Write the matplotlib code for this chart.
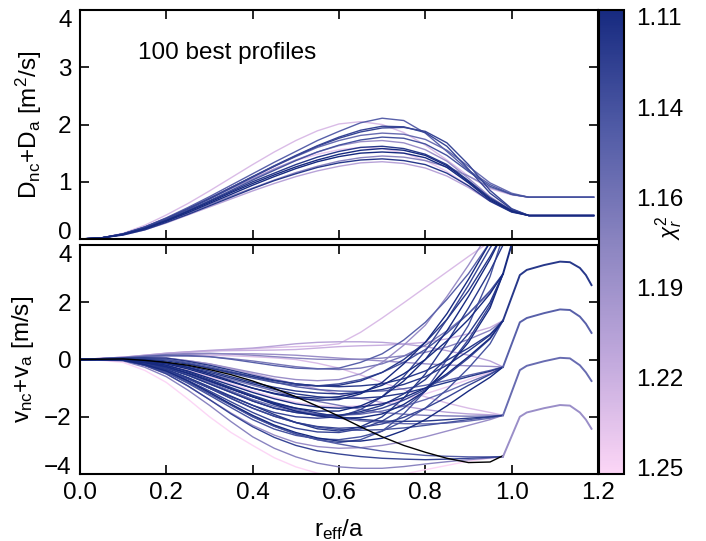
import numpy as np
import matplotlib
matplotlib.use("Agg")
import matplotlib.pyplot as plt
from matplotlib.colors import LinearSegmentedColormap, Normalize
from matplotlib.cm import ScalarMappable

plt.rcParams['font.family'] = ['Liberation Sans', 'DejaVu Sans']
plt.rcParams['mathtext.fontset'] = 'custom'
plt.rcParams['mathtext.rm'] = 'Liberation Sans'
plt.rcParams['mathtext.it'] = 'Liberation Sans:italic'
plt.rcParams['font.size'] = 17.5

# ---- data ----
chi_min, chi_max = 1.11, 1.25
cbar_labels = ['1.11', '1.14', '1.16', '1.19', '1.22', '1.25']

# upper panel: D profiles
r_D = [0, .05, .1, .15, .2, .25, .3, .35, .4, .45, .5, .55, .6, .65, .7,
       .75, .8, .85, .9, .95, 1.0, 1.04, 1.19]
D_chi = [1.11, 1.12, 1.13, 1.15, 1.23, 1.14, 1.12, 1.18, 1.21, 1.16, 1.11, 1.19, 1.24, 1.13]
D_vals = [
    [0, .02, .08, .18, .31, .46, .62, .78, .94, 1.09, 1.23, 1.35, 1.44, 1.50, 1.52, 1.50, 1.42, 1.25, .98, .68, .48, .41, .41],
    [0, .02, .07, .16, .29, .43, .58, .73, .88, 1.02, 1.14, 1.25, 1.33, 1.38, 1.40, 1.37, 1.30, 1.15, .93, .66, .47, .41, .41],
    [0, .02, .09, .20, .35, .52, .70, .89, 1.08, 1.27, 1.45, 1.62, 1.76, 1.87, 1.94, 1.95, 1.88, 1.68, 1.30, .85, .53, .41, .41],
    [0, .02, .09, .21, .37, .55, .74, .94, 1.14, 1.34, 1.53, 1.72, 1.88, 2.03, 2.11, 2.07, 1.85, 1.53, 1.20, .95, .78, .73, .73],
    [0, .02, .10, .24, .42, .62, .84, 1.07, 1.30, 1.52, 1.72, 1.89, 2.01, 2.05, 2.00, 1.86, 1.64, 1.38, 1.10, .88, .77, .73, .73],
    [0, .02, .08, .19, .33, .50, .67, .85, 1.03, 1.20, 1.37, 1.52, 1.64, 1.73, 1.78, 1.76, 1.66, 1.46, 1.18, .92, .78, .73, .73],
    [0, .02, .08, .19, .33, .49, .66, .83, 1.00, 1.15, 1.30, 1.43, 1.53, 1.60, 1.62, 1.58, 1.48, 1.30, 1.02, .72, .50, .41, .41],
    [0, .02, .08, .18, .31, .45, .60, .75, .89, 1.03, 1.16, 1.27, 1.36, 1.42, 1.45, 1.43, 1.37, 1.26, 1.10, .90, .78, .73, .73],
    [0, .02, .07, .16, .28, .42, .56, .70, .84, .97, 1.09, 1.19, 1.27, 1.33, 1.35, 1.32, 1.24, 1.10, .90, .66, .48, .41, .41],
    [0, .02, .09, .21, .36, .53, .71, .90, 1.09, 1.27, 1.44, 1.60, 1.72, 1.81, 1.85, 1.83, 1.74, 1.55, 1.27, .98, .80, .73, .73],
    [0, .02, .08, .18, .32, .48, .64, .81, .97, 1.12, 1.26, 1.38, 1.48, 1.55, 1.58, 1.55, 1.46, 1.28, 1.00, .70, .49, .41, .41],
    [0, .02, .09, .20, .35, .52, .70, .88, 1.05, 1.22, 1.38, 1.52, 1.63, 1.70, 1.72, 1.68, 1.56, 1.36, 1.06, .74, .50, .41, .41],
    [0, .02, .09, .21, .37, .54, .72, .90, 1.07, 1.23, 1.37, 1.48, 1.56, 1.60, 1.58, 1.50, 1.37, 1.18, .93, .67, .48, .41, .41],
    [0, .02, .09, .21, .36, .53, .71, .90, 1.09, 1.28, 1.46, 1.63, 1.78, 1.90, 1.97, 1.96, 1.86, 1.62, 1.22, .80, .52, .41, .41],
]

# lower panel: v profiles up to r=0.98 (None chi = black curve)
r_v = [0, .05, .1, .15, .2, .25, .3, .35, .4, .45, .5, .55, .6, .65, .7,
       .75, .8, .85, .9, .95, .98]
v_chi = [1.12, 1.11, 1.13, 1.23, 1.15, 1.12, 1.19, 1.14, 1.11,
         1.11, 1.12, 1.14, 1.13, 1.17, 1.11,
         1.12, 1.13, 1.18, 1.11, 1.22, 1.14, 1.12,
         1.15, 1.19, 1.13, 1.21, 1.16, 1.11, 1.24, 1.12,
         1.17, 1.21, 1.14, 1.19, 1.12, 1.23, 1.16,
         None, 1.13, 1.18, 1.25, 1.15]
v_vals = [
    # leaving through the top
    [0, .03, .05, .06, .05, -.06, -.20, -.37, -.55, -.72, -.85, -.92, -.90, -.75, -.45, .00, .60, 1.40, 2.40, 3.60, 4.40],
    [0, .01, .00, -.10, -.25, -.48, -.75, -1.03, -1.30, -1.53, -1.70, -1.80, -1.80, -1.62, -1.30, -.75, .00, 1.00, 2.20, 3.50, 4.40],
    [0, .00, -.02, -.18, -.40, -.68, -1.00, -1.30, -1.60, -1.85, -2.00, -2.05, -2.00, -1.75, -1.30, -.60, .30, 1.40, 2.60, 3.90, 4.60],
    [0, .04, .08, .14, .20, .25, .30, .34, .38, .42, .45, .47, .55, .95, 1.45, 1.98, 2.52, 3.06, 3.60, 4.12, 4.40],
    [0, .03, .06, .11, .15, .14, .10, .01, -.10, -.21, -.30, -.33, -.30, -.10, .20, .68, 1.30, 2.10, 3.00, 4.10, 4.70],
    [0, .00, -.02, -.15, -.35, -.63, -.95, -1.28, -1.60, -1.92, -2.20, -2.42, -2.50, -2.35, -2.00, -1.35, -.50, .60, 1.80, 3.10, 4.00],
    [0, .03, .05, .06, .05, -.04, -.15, -.30, -.45, -.60, -.70, -.74, -.70, -.50, -.10, .50, 1.20, 2.20, 3.30, 4.50, 5.20],
    [0, -.01, -.03, -.20, -.45, -.80, -1.20, -1.60, -2.00, -2.33, -2.60, -2.80, -2.90, -2.80, -2.50, -1.90, -1.10, .00, 1.20, 2.90, 4.30],
    [0, .01, .02, -.02, -.10, -.28, -.50, -.75, -1.00, -1.20, -1.35, -1.42, -1.40, -1.20, -.80, -.15, .60, 1.60, 2.80, 4.10, 4.90],
    # meeting at 2.99
    [0, .01, .02, -.05, -.15, -.33, -.55, -.78, -1.00, -1.18, -1.30, -1.35, -1.30, -1.15, -.90, -.50, .00, .65, 1.40, 2.30, 2.99],
    [0, .00, .00, -.12, -.30, -.55, -.85, -1.15, -1.45, -1.70, -1.85, -1.95, -1.95, -1.82, -1.60, -1.20, -.70, .05, .90, 2.00, 2.99],
    [0, .03, .05, .04, .00, -.13, -.30, -.48, -.65, -.80, -.90, -.92, -.85, -.70, -.45, -.10, .35, .92, 1.60, 2.40, 2.99],
    [0, -.01, -.02, -.18, -.40, -.73, -1.10, -1.48, -1.85, -2.17, -2.40, -2.53, -2.55, -2.42, -2.15, -1.70, -1.10, -.30, .70, 1.90, 2.99],
    [0, .03, .06, .10, .12, .12, .10, .03, -.05, -.15, -.25, -.32, -.35, -.30, -.15, .12, .50, 1.00, 1.60, 2.35, 2.99],
    [0, .00, .00, -.10, -.25, -.48, -.75, -1.02, -1.30, -1.57, -1.80, -1.97, -2.05, -2.03, -1.90, -1.57, -1.10, -.30, .60, 1.80, 2.99],
    # meeting at 1.36
    [0, .01, .02, -.02, -.10, -.23, -.40, -.60, -.80, -.97, -1.10, -1.17, -1.20, -1.15, -1.05, -.87, -.60, -.20, .30, .85, 1.36],
    [0, .00, .00, -.12, -.30, -.55, -.85, -1.15, -1.45, -1.70, -1.85, -1.93, -1.95, -1.87, -1.70, -1.42, -1.05, -.55, .05, .72, 1.36],
    [0, .03, .07, .13, .18, .21, .22, .19, .15, .10, .05, .01, .00, .01, .05, .13, .25, .44, .70, 1.02, 1.36],
    [0, .00, .00, -.08, -.20, -.40, -.65, -.90, -1.15, -1.37, -1.55, -1.66, -1.70, -1.66, -1.55, -1.33, -1.00, -.50, .10, .75, 1.36],
    [0, .04, .08, .15, .22, .27, .30, .31, .32, .33, .35, .40, .45, .48, .50, .54, .60, .72, .90, 1.12, 1.36],
    [0, -.01, -.03, -.20, -.45, -.83, -1.25, -1.68, -2.10, -2.43, -2.65, -2.77, -2.80, -2.70, -2.50, -2.15, -1.70, -1.05, -.30, .55, 1.36],
    [0, .02, .03, .01, -.05, -.16, -.30, -.45, -.60, -.74, -.85, -.92, -.95, -.92, -.85, -.67, -.40, -.03, .40, .88, 1.36],
    # meeting at -0.26
    [0, .02, .03, .02, .00, -.10, -.25, -.42, -.60, -.79, -.95, -1.05, -1.10, -1.12, -1.10, -1.02, -.90, -.73, -.55, -.38, -.26],
    [0, .03, .06, .11, .15, .18, .20, .20, .20, .18, .15, .10, .05, .00, -.05, -.10, -.15, -.19, -.22, -.24, -.26],
    [0, .00, .00, -.15, -.35, -.65, -1.00, -1.36, -1.70, -1.98, -2.20, -2.34, -2.40, -2.37, -2.25, -2.02, -1.70, -1.32, -.90, -.52, -.26],
    [0, .04, .08, .15, .22, .27, .32, .36, .40, .47, .55, .60, .62, .62, .60, .54, .45, .31, .15, -.05, -.26],
    [0, .00, .00, -.12, -.30, -.53, -.80, -1.10, -1.40, -1.63, -1.80, -1.91, -1.95, -1.91, -1.80, -1.63, -1.40, -1.12, -.80, -.50, -.26],
    [0, -.01, -.02, -.18, -.40, -.75, -1.15, -1.56, -1.95, -2.29, -2.55, -2.74, -2.85, -2.85, -2.75, -2.48, -2.10, -1.62, -1.10, -.62, -.26],
    [0, .01, .02, -.06, -.20, -.38, -.60, -.85, -1.10, -1.32, -1.50, -1.61, -1.65, -1.62, -1.55, -1.40, -1.20, -.96, -.70, -.45, -.26],
    [0, .01, .02, -.03, -.12, -.27, -.45, -.65, -.85, -1.04, -1.20, -1.30, -1.35, -1.35, -1.30, -1.18, -1.00, -.80, -.60, -.41, -.26],
    # meeting at -1.95
    [0, .01, .02, -.05, -.15, -.31, -.50, -.70, -.90, -1.10, -1.30, -1.46, -1.60, -1.74, -1.85, -1.91, -1.95, -1.97, -1.98, -1.97, -1.95],
    [0, .03, .05, .06, .05, -.04, -.15, -.32, -.50, -.68, -.85, -1.03, -1.20, -1.36, -1.50, -1.63, -1.75, -1.84, -1.90, -1.93, -1.95],
    [0, .00, .00, -.15, -.35, -.65, -1.00, -1.36, -1.70, -1.98, -2.20, -2.36, -2.45, -2.47, -2.45, -2.39, -2.30, -2.20, -2.10, -2.01, -1.95],
    [0, -.01, -.02, -.22, -.50, -.93, -1.40, -1.87, -2.30, -2.64, -2.90, -3.04, -3.10, -3.08, -3.00, -2.87, -2.70, -2.50, -2.30, -2.10, -1.95],
    [0, .01, .02, -.06, -.20, -.43, -.70, -.98, -1.25, -1.50, -1.70, -1.87, -2.00, -2.09, -2.15, -2.16, -2.15, -2.10, -2.05, -2.00, -1.95],
    [0, .04, .08, .12, .15, .16, .15, .13, .10, .06, .00, -.13, -.30, -.54, -.80, -1.05, -1.30, -1.52, -1.70, -1.85, -1.95],
    [0, .00, .00, -.10, -.25, -.48, -.75, -1.03, -1.30, -1.54, -1.75, -1.92, -2.05, -2.14, -2.20, -2.24, -2.25, -2.22, -2.15, -2.05, -1.95],
    # meeting at -3.39
    [0, .01, .02, -.03, -.10, -.20, -.35, -.53, -.75, -1.01, -1.30, -1.63, -1.98, -2.35, -2.70, -3.00, -3.24, -3.45, -3.60, -3.58, -3.36],
    [0, -.01, -.02, -.20, -.50, -.92, -1.40, -1.90, -2.35, -2.72, -3.00, -3.19, -3.30, -3.39, -3.45, -3.48, -3.50, -3.48, -3.45, -3.42, -3.39],
    [0, -.02, -.05, -.27, -.60, -1.07, -1.60, -2.17, -2.70, -3.10, -3.40, -3.62, -3.75, -3.80, -3.80, -3.74, -3.65, -3.57, -3.50, -3.44, -3.39],
    [0, -.03, -.10, -.38, -.80, -1.38, -2.00, -2.55, -3.00, -3.43, -3.75, -3.97, -4.10, -4.13, -4.10, -4.00, -3.85, -3.70, -3.55, -3.45, -3.39],
    [0, .00, .00, -.15, -.40, -.75, -1.15, -1.58, -2.00, -2.33, -2.60, -2.80, -2.95, -3.08, -3.20, -3.28, -3.35, -3.38, -3.40, -3.40, -3.39],
]

# edge part of the v profiles, shared by the curves meeting at r=0.98
r_edge = [0.98, 1.019, 1.035, 1.075, 1.112, 1.135, 1.158, 1.172, 1.185]
edge_chi = [1.11, 1.12, 1.15, 1.16, 1.19]
edge_vals = [
    [2.99, 5.0, None, None, None, None, None, None, None],
    [1.36, 2.95, 3.13, 3.30, 3.42, 3.40, 3.20, 2.95, 2.60],
    [-0.26, 1.30, 1.45, 1.62, 1.75, 1.73, 1.50, 1.25, 0.93],
    [-1.95, -0.37, -0.22, -0.06, 0.06, 0.04, -0.20, -0.45, -0.75],
    [-3.39, -2.00, -1.85, -1.70, -1.59, -1.61, -1.85, -2.10, -2.42],
]

# ---- drawing ----
cmap = LinearSegmentedColormap.from_list(
    'chi', ['#172a80', '#4f5aa5', '#8a84c0', '#c0a8dc', '#fcd6f6'],
)
norm = Normalize(chi_min, chi_max)

fig = plt.figure(figsize=(7.06, 5.41), dpi=100)
ax1 = fig.add_axes([0.1133, 0.5582, 0.7337, 0.4233])
ax2 = fig.add_axes([0.1133, 0.1238, 0.7337, 0.4233])
cax = fig.add_axes([0.8484, 0.1238, 0.0354, 0.8577])

for i in np.argsort(D_chi)[::-1]:
    ax1.plot(r_D, D_vals[i], color=cmap(norm(D_chi[i])), lw=1.0)

order = sorted(range(len(v_chi)), key=lambda k: -(v_chi[k] or 0))
for i in order:
    c = 'black' if v_chi[i] is None else cmap(norm(v_chi[i]))
    ax2.plot(r_v, v_vals[i], color=c, lw=1.0)
for ch, vals in zip(edge_chi, edge_vals):
    y = np.array([np.nan if v is None else v for v in vals])
    ax2.plot(r_edge, y, color=cmap(norm(ch)), lw=1.4)

ax1.text(0.134, 3.25, '100 best profiles', va='center', ha='left')

for ax in (ax1, ax2):
    ax.set_xlim(0, 1.2)
    ax.set_xticks([0, 0.2, 0.4, 0.6, 0.8, 1.0, 1.2])
    ax.tick_params(direction='in', length=6.5, width=1.2, top=True, right=True, pad=6)
    for s in ax.spines.values():
        s.set_linewidth(1.5)

ax1.set_ylim(0, 4)
ax1.set_yticks([0, 1, 2, 3, 4])
ax1.set_xticklabels([])
ax2.set_ylim(-4, 4)
ax2.set_yticks([-4, -2, 0, 2, 4])
ax2.set_xticklabels(['0.0', '0.2', '0.4', '0.6', '0.8', '1.0', '1.2'])

ax1.set_ylabel(r'D$_{\mathrm{nc}}$+D$_{\mathrm{a}}$ [m$^{2}$/s]')
ax2.set_ylabel(r'v$_{\mathrm{nc}}$+v$_{\mathrm{a}}$ [m/s]')
ax1.yaxis.set_label_coords(-0.07, 0.5)
ax2.yaxis.set_label_coords(-0.085, 0.5)
ax2.set_xlabel(r'r$_{\mathrm{eff}}$/a', labelpad=9)

# colorbar, 1.11 on top
sm = ScalarMappable(norm=norm, cmap=cmap)
cb = fig.colorbar(sm, cax=cax)
cax.invert_yaxis()
pos = [chi_min + (0.015 + k * 0.1944) * (chi_max - chi_min) for k in range(6)]
cb.set_ticks(pos, labels=cbar_labels)
cax.tick_params(length=0, pad=9)
cb.outline.set_linewidth(1.5)
fig.text(669 / 706, 1 - 228 / 541, r'$\chi_{r}^{2}$', rotation=90,
         ha='center', va='center', fontsize=16)

fig.canvas.draw()
for ax in (ax1, ax2):
    labs = ax.get_yticklabels()
    labs[-1].set_va('top')
    labs[0].set_va('baseline')

fig.savefig('out.png', dpi=100)
